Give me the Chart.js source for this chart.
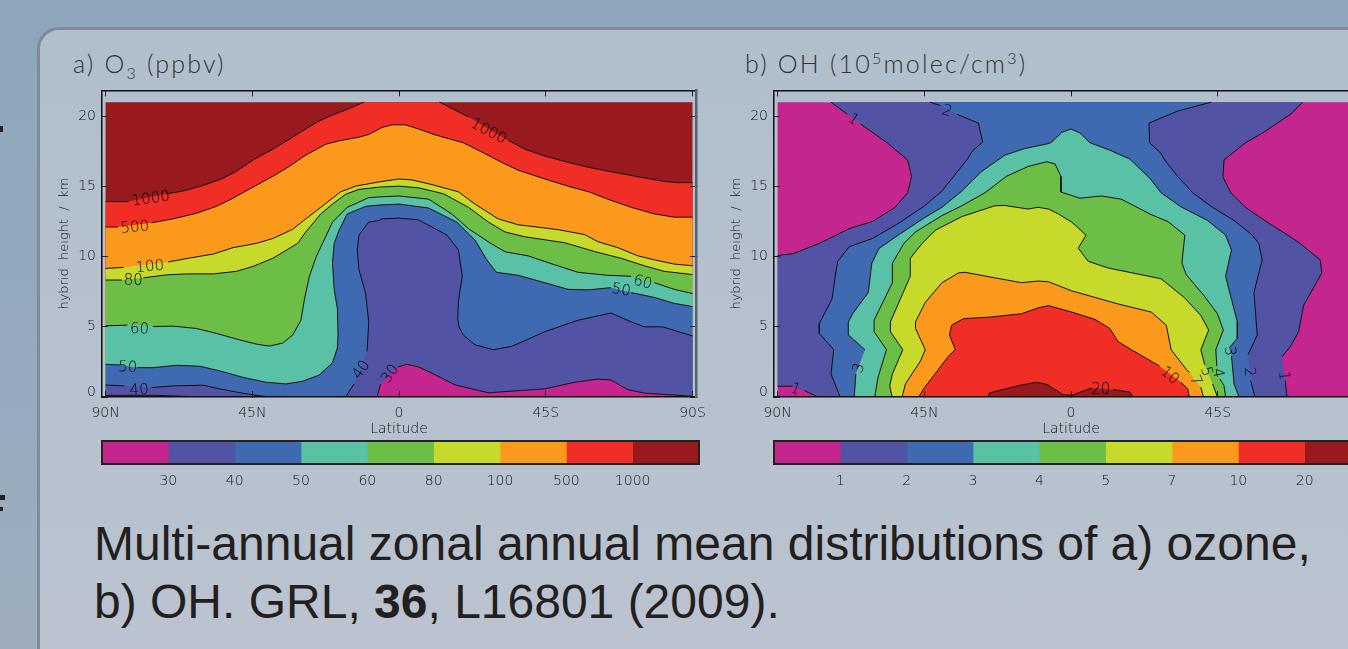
<!DOCTYPE html>
<html lang="en">
<head>
<meta charset="UTF-8">
<title>O3 and OH zonal mean</title>
<script src="https://cdn.jsdelivr.net/npm/chart.js"></script>
<style>
    html, body { margin: 0; height: 100%; overflow: hidden; }
    body { position: relative; width: 1348px; height: 649px; background: linear-gradient(#8ea5bb, #9dadbe); }
    #card { position: absolute; left: 37px; top: 27px; width: 1400px; height: 700px; box-sizing: border-box;
            border: 3px solid #7c8c9c; border-radius: 22px; background: linear-gradient(#b0bfcc, #bac3cf 85%); }
    canvas { position: absolute; }
    .title { position: absolute; top: 48px; font: 300 25px Lato, sans-serif; letter-spacing: 2.2px; color: #333; white-space: pre; }
    .title sub, .title sup { font-size: 16px; line-height: 0; }
    #caption { position: absolute; left: 94px; top: 515px; font: 48px/58px "Liberation Sans", sans-serif; color: #231f20; white-space: nowrap; }
    .cut { position: absolute; left: 0; background: #222; }
</style>
</head>
<body>
<div class="cut" style="top:126px;width:3px;height:6px"></div>
<div class="cut" style="top:495px;width:5px;height:5px"></div>
<div class="cut" style="top:507px;width:3px;height:4px"></div>
<div id="card"></div>
<div class="title" style="left:73px">a) O<sub>3</sub> (ppbv)</div>
<div class="title" style="left:745px">b) OH (10<sup>5</sup>molec/cm<sup>3</sup>)</div>
<canvas id="o3" width="680" height="370" style="left:40px;top:70px"></canvas>
<canvas id="oh" width="680" height="370" style="left:712px;top:70px"></canvas>
<canvas id="o3bar" width="680" height="60" style="left:40px;top:434px"></canvas>
<canvas id="ohbar" width="680" height="60" style="left:712px;top:434px"></canvas>
<div id="caption">Multi-annual zonal annual mean distributions of a) ozone,<br>b) OH. GRL, <b>36</b>, L16801 (2009).</div>
<script>
const levelColors = ['#c4258e', '#5253a5', '#3f69b1', '#59c1a5', '#6cbe46', '#c7da2b', '#fb991d', '#f12e25', '#981a1e'];
const latTicks = [90, 45, 0, -45, -90];
const latLabels = ['90N', '45N', '0', '45S', '90S'];
const kmTicks = [0, 5, 10, 15, 20];
const o3Levels = ['30', '40', '50', '60', '80', '100', '500', '1000'];
const ohLevels = ['1', '2', '3', '4', '5', '7', '10', '20'];

// contours as [latitude, km], null = gap left for a contour label
const o3_1000a = [[90,13.92],[83,13.92],null,[71.3,14.48],[66.2,14.67],[60.1,15.07],[54.5,15.53],[49.9,16.07],[44.8,16.88],[39.8,17.51],[34.2,18.28],[30.6,18.81],[25,19.6],[20.4,20.09],[15.9,20.49],[10.8,21]];
const o3_1000b = [[-12.4,21],[-21.3,19.95],null,[-33.5,18.28],[-38.6,17.65],[-44.7,17.16],[-51.8,16.72],[-57.9,16.37],[-66.1,16],[-74.2,15.65],[-80.8,15.37],[-85.4,15.27],[-90,15.27]];
const o3_500 = [[90,12.11],[86.3,12.11],null,[75.9,12.41],[69.3,12.69],[62.1,13.09],[56,13.58],[51.5,14.09],[44.8,14.95],[38.7,15.72],[33.7,16.42],[28.6,17.23],[22.5,18],[18.4,18.25],[12.3,18.51],[9.3,18.7],[5.2,19.2],[2.1,19.39],[-1.9,19.39],[-6,19.09],[-11.1,18.67],[-19.7,18.11],[-25.3,17.46],[-32,16.65],[-36.5,16.16],[-44.7,15.53],[-51.8,15.02],[-58.4,14.6],[-64,14.09],[-71.2,13.51],[-78.3,13.04],[-84.4,12.81],[-90,12.81]];
const o3_100 = [[90,9.16],[84.5,9.23],null,[70.8,9.62],[64.2,9.9],[57,10.18],[50.9,10.64],[43.8,10.94],[38.7,11.29],[32.6,11.95],[28.6,12.69],[24,13.51],[17.9,14.62],[13.3,15.02],[6.2,15.32],[0,15.53],[-4,15.46],[-10.1,15.13],[-18.2,14.62],[-23.3,13.74],[-30.4,12.69],[-36.5,12.27],[-48.8,11.92],[-56.9,11.57],[-61,11.06],[-67.1,10.64],[-73.2,10.06],[-78.3,9.77],[-84.4,9.47],[-90,9.35]];
const o3_80 = [[90,8.33],[85,8.33],null,[78.4,8.49],[71.3,8.7],[65.2,8.77],[57,8.77],[49.9,8.95],[44.8,9.3],[38.7,9.88],[33.7,10.58],[31.1,10.94],[28.6,11.76],[24,13.04],[20.4,13.74],[16.4,14.44],[12.3,14.79],[6.2,14.95],[0,15.02],[-6,14.9],[-13.6,14.48],[-21.3,13.51],[-27.4,12.46],[-32.5,11.76],[-38.6,11.41],[-50.8,10.99],[-60,10.36],[-68.1,9.88],[-75.2,9.35],[-81.3,8.95],[-90,8.72]];
const o3_60 = [[90,5.07],[83.3,5.12],null,[75.4,5.02],[69.3,5.05],[62.1,4.88],[56,4.53],[48.9,4.07],[43.8,3.77],[39.8,3.63],[35.7,3.84],[32.6,4.42],[30.1,5.47],[29,6.98],[27.5,8.6],[25.4,10],[23.5,10.93],[20.4,12.46],[15.9,13.51],[9.3,14.2],[6.2,14.25],[0,14.32],[-9.1,14.09],[-16.2,13.04],[-21.3,11.99],[-28.2,10.93],[-32.5,10.35],[-39.6,10.05],[-47.7,9.42],[-54.9,8.88],[-64,8.67],[-71.2,8.6],null,[-78.3,8.14],[-84.4,7.67],[-90,7.37]];
const o3_50 = [[90,2.33],[85.5,2.28],null,[80.4,2.09],[75.4,2.09],[68.2,2.26],[61.1,2.19],[55,1.86],[47.9,1.4],[40.8,1.05],[34.7,0.93],[29.6,1.12],[24.5,1.56],[20.4,2.44],[18.9,3.49],[18.7,4.42],[18.9,6.28],[19.9,7.67],[20.4,9.53],[19.9,10.93],[18.4,11.88],[15.9,13.04],[10.2,13.58],[6.2,13.67],[0,13.74],[-9.1,13.46],[-17.7,12.46],[-23.3,11.18],[-26.9,9.77],[-29.9,8.88],[-36.5,8.67],[-44.7,8.14],[-51.8,7.67],[-57.9,7.63],[-65,7.79],null,[-71.2,7.44],[-78.3,7.09],[-84.4,6.67],[-90,6.44]];
const o3_40a = [[90,0.86],[84.3,0.79],null,[75.9,0.67],[69.3,0.79],[60.1,0.84],[55,0.58],[49.9,0.35],[44.8,0.16],[39.8,0]];
const o3_40b = [[16.4,0],[13.8,0.93],null,[9.8,3.26],[9.3,5.35],[10.3,7.44],[12.3,9.07],[12.8,10.47],[12.3,11.53],[9.3,12.46],[6.2,12.57],[5.2,12.69],[0,12.74],[-6,12.62],[-14.7,11.53],[-18.2,10.48],[-19.4,8.6],[-18.7,7.6],[-18.2,6.74],[-18,5.58],[-18.4,5],[-19.7,4.42],[-23.3,3.72],[-28.9,3.37],[-34.5,3.6],[-44.7,4.65],[-54.9,5.47],[-65,5.98],[-71.2,5.35],[-75.2,5],[-80.8,5],[-90,4.35]];
const o3_30a = [[90,0.12],[75,0.12],[60,0]];
const o3_30b = [[6.7,0],[5.7,0.93],null,[0.3,2.14],[-2.4,2.33],[-6,2.14],[-10.1,1.7],[-17.2,0.86],[-27.4,0.3],[-44.7,0.58],[-53.9,1.05],[-61,1.28],[-65,1.21],[-70.1,0.53],[-75.2,0.28],[-90,0.05]];

const oh_1a = [[73.6,21],[68.6,20.14],null,[64.5,19.44],[56.4,18.11],[50.1,16.88],[48.9,15.72],[50.1,14.55],[54,13.51],[60.9,12.5],[67.5,12.04],[71.1,11.64],[77.2,10.94],[85.3,10.2],[90,10.08]];
const oh_1b = [[90,0.77],[85.3,0.77],null,[81.8,0.47],[77.7,0]];
const oh_1c = [[-66.2,0],[-65.7,1.16],null,[-64.7,2.86],[-67.3,3.6],[-69.8,4.65],[-71.3,6.51],[-76.9,8.84],[-76.4,9.77],[-70.3,10.93],[-67.3,11.41],[-60.1,12.46],[-53.5,13.51],[-49,14.55],[-46.6,15.67],[-46.9,16.88],[-53.5,18.11],[-59.1,18.86],[-67.3,20.14],[-71,21]];
const oh_2a = [[43.2,21],[40.1,20.77],null,[35,20.14],[28.4,19.51],[27.1,18.16],[30,17.58],[32,16.88],[39.6,14.67],[44.9,13.62],[52.3,12.46],[60.9,11.29],[68,10.71],[71.6,9.65],[72.3,8.6],[73.3,6.98],[77.2,5.23],[77.2,4.53],[72.8,3.37],[73.6,1.63],[70.8,0]];
const oh_2b = [[-56.4,0],[-55.1,1.16],null,[-54.3,3.02],[-57.1,4.42],[-56.1,7.44],[-58.6,9.77],[-57.6,10.93],[-55.6,11.53],[-50,12.57],[-43.4,13.51],[-37.3,14.55],[-32.7,15.72],[-28.7,16.88],[-27.6,17.35],[-24.1,18.11],[-23.9,19.51],[-32.7,20.37],[-42.9,21]];
const oh_3 = [[66.5,0],[66,1.63],null,[63.2,3.37],[68.3,4.42],[68.3,5.35],[67,5.93],[62.2,7.44],[61.1,9.53],[58.9,10.58],[52.3,11.64],[44.7,12.81],[39.6,13.51],[33.5,14.67],[27.4,16.07],[20.3,17.23],[14.2,17.7],[7.1,18.04],[5.9,18.16],[2.8,18.86],[0,19.09],[-2.7,18.81],[-5.8,18.11],[-11.9,17.58],[-18,16.95],[-24.1,15.6],[-27.6,14.55],[-33.7,13.55],[-41.9,12.57],[-47.4,11.53],[-49.2,10.48],[-47.4,8.6],[-51,5.35],[-51,4.19],[-48.5,3.49],null,[-49.2,2.91],[-50,0.93],[-51.5,0]];
const oh_4 = [[60.2,0],[59.2,1.4],[56.6,3.37],[60.4,4.65],[60.4,5.47],[54.8,8.14],[54.8,9.53],[51.3,10.93],[47.7,11.76],[39.6,12.92],[33.5,13.62],[26.4,14.55],[19.8,15.72],[13.2,16.42],[7.4,16.76],[4.9,16.6],[3.1,15.72],[3.1,14.6],[-2.7,14.16],[-9.3,14.32],[-15.4,14.09],[-24.6,12.99],[-29.7,12.5],[-34.9,11.53],[-34,9.55],[-35.3,8.72],[-40.8,7.21],[-44.9,5.93],[-46.7,4.77],[-44.4,3.37],[-44.7,2.2],null,[-45.7,1.28],[-46.9,0.81],[-47.4,0]];
const oh_5 = [[54.9,0],[55.6,0.81],[54.8,1.63],[51.6,3.37],[55.4,4.65],[55.4,5.35],[49.3,8.6],[49.3,9.88],[45.7,10.93],[41.6,11.88],[33.5,12.85],[23.4,13.62],[20.3,13.64],[13.2,13.39],[10.1,13.51],[6.9,13.39],[3.9,13.04],[-0.2,12.46],[-4.6,11.53],[-2.2,10.6],[-5.3,9.66],[-11.4,9.19],[-27.6,8.42],[-34.7,7.09],[-39.8,5.81],[-42.2,4.77],[-39.8,3.37],[-41,2.3],null,[-43.4,0.93],[-44.9,0]];
const oh_7 = [[51.8,0],[50.8,0.93],[46.2,2.56],[44.7,3.37],[47.7,4.88],[47.7,5.35],[44.7,6.74],[39.6,8.14],[34.5,8.84],[32.5,8.88],[23.4,8.49],[15.2,8.14],[10.1,8.26],[6.9,8.21],[-0.2,7.56],[-14.4,6.63],[-24.6,6.05],[-29.2,5.12],[-30.7,3.37],[-35.3,1.98],[-36.3,1.74],null,[-39.8,0.7],[-40.6,0]];
const oh_10 = [[46.7,0],[45.2,0.58],[37.6,2.91],[35.5,3.37],[37.3,4.42],[36.6,5.12],[33,5.58],[24.4,5.7],[15.2,5.93],[10.1,6.35],[6.9,6.51],[-0.2,6.05],[-7.3,5.53],[-11.9,4.88],[-14.4,3.95],[-18.5,3.37],[-27.1,2.21],null,[-33.7,1.05],[-35.8,0.58],[-36.3,0]];
const oh_20 = [[25.4,0],[25.1,0.28],[16.2,0.81],[10.7,1.05],[7.1,0.88],[6.1,0.7],[2.3,0.16],[-0.2,0.12],[-6.3,0.65],null,[-12.9,0.53],[-18,0.35],[-19,0]];

// contour labels: text, latitude, km, rotation in degrees
const o3Labels = [['1000',76.1,14.1,-8],['500',81,12.06,-5],['100',76.4,9.26,-5],['80',81.5,8.26,0],['60',79.6,4.81,3],['50',83.2,2.09,3],['40',79.7,0.47,-3],['40',11.5,1.93,-55],['30',2.6,1.63,-55],['1000',-27.4,18.9,28],['60',-74.7,8.14,15],['50',-68.1,7.6,10]];
const ohLabels = [['1',66.8,19.74,35],['2',38.1,20.33,20],['1',84.6,0.53,20],['3',65,2.05,-70],['3',-48.5,3.26,85],['2',-54.6,1.79,85],['1',-65.2,1.51,85],['4',-44.9,1.7,80],['5',-41.4,1.81,75],['7',-38.1,1.16,65],['10',-30.2,1.51,40],['20',-9.1,0.47,0]];

const tickFont = { family: '"DejaVu Sans"', size: 14, weight: 200 };
const inkColor = '#111';

const toPoints = part => part.map(p => p ? { x: p[0], y: p[1] } : { x: null, y: null });

// painted first to last, each one covers the one before
function fillDataset(color, parts) {
    return { data: toPoints(parts.flat().filter(p => p)), backgroundColor: color, fill: 'shape', borderWidth: 0, showLine: true, pointRadius: 0 };
}
function lineDataset(part) {
    return { data: toPoints(part), borderColor: '#111', borderWidth: 1, showLine: true, pointRadius: 0, fill: false, spanGaps: false };
}

const labelPlugin = labels => ({
    id: 'contourLabels',
    afterDatasetsDraw(chart) {
        const { ctx, scales } = chart;
        ctx.save();
        ctx.font = '200 15px "DejaVu Sans"';
        ctx.fillStyle = '#000';
        ctx.textAlign = 'center';
        ctx.textBaseline = 'middle';
        labels.forEach(([text, lat, km, angle]) => {
            ctx.save();
            ctx.translate(scales.x.getPixelForValue(lat), scales.y.getPixelForValue(km));
            ctx.rotate(angle * Math.PI / 180);
            ctx.fillText(text, 0, 0);
            ctx.restore();
        });
        ctx.restore();
    }
});

function drawPanel(id, fills, lines, labels) {
    const datasets = fills.map((f, i) => fillDataset(f[0], f[1])).concat(lines.map(lineDataset)).reverse();
    const frame = (color, width) => ({ display: true, color, width, z: 1 });
    const inward = { drawOnChartArea: false, tickLength: -6, color: '#222', lineWidth: 1, z: 1 };
    new Chart(document.getElementById(id), {
        type: 'scatter',
        data: { datasets },
        plugins: [labelPlugin(labels)],
        options: {
            responsive: false,
            animation: false,
            layout: { padding: { top: 9, right: 21 } },
            plugins: { legend: { display: false }, tooltip: { enabled: false } },
            scales: {
                x: {
                    type: 'linear', reverse: true, min: -91.1, max: 91.1,
                    afterBuildTicks: s => { s.ticks = latTicks.map(value => ({ value })); },
                    afterFit: s => { s.height = 43; },
                    border: frame('#111', 1.5), grid: inward,
                    ticks: { autoSkip: false, maxRotation: 0, padding: 14, color: inkColor, font: tickFont,
                        callback: v => latLabels[latTicks.indexOf(v)] },
                    title: { display: true, text: 'Latitude', color: inkColor, font: tickFont, padding: { top: 0, bottom: 2 } }
                },
                x2: {
                    type: 'linear', position: 'top', reverse: true, min: -91.1, max: 91.1,
                    afterBuildTicks: s => { s.ticks = latTicks.map(value => ({ value })); },
                    afterFit: s => { s.height = 0; },
                    border: frame('#111', 1.5), grid: inward, ticks: { display: false }
                },
                y: {
                    min: 0, max: 21.84,
                    afterBuildTicks: s => { s.ticks = kmTicks.map(value => ({ value })); },
                    afterFit: s => { s.width = 62; },
                    border: frame('#111', 1.5), grid: inward,
                    ticks: { padding: 12, color: inkColor,
                        font: c => ({ ...tickFont, lineHeight: c.tick && c.tick.value === 0 ? 0.6 : 1.2 }),
                        callback: v => v === 0 ? ['0', ''] : String(v) },
                    title: { display: true, text: 'hybrid  height  /  km', color: inkColor, font: { ...tickFont, size: 13 }, padding: { top: 17, bottom: 0 } }
                },
                y2: {
                    position: 'right', min: 0, max: 21.84,
                    afterBuildTicks: s => { s.ticks = kmTicks.map(value => ({ value })); },
                    afterFit: s => { s.width = 0; },
                    border: frame('#56636f', 2.5), grid: inward, ticks: { display: false }
                }
            }
        }
    });
}

function drawColorbar(id, levels) {
    new Chart(document.getElementById(id), {
        type: 'bar',
        data: {
            labels: [''],
            datasets: levelColors.map(c => ({ data: [1], backgroundColor: c, barPercentage: 1, categoryPercentage: 1 }))
        },
        options: {
            responsive: false,
            animation: false,
            indexAxis: 'y',
            layout: { padding: { top: 7, right: 21 } },
            plugins: { legend: { display: false }, tooltip: { enabled: false } },
            scales: {
                x: {
                    stacked: true, min: 0, max: levelColors.length,
                    afterBuildTicks: s => { s.ticks = levels.map((l, i) => ({ value: i + 1 })); },
                    afterFit: s => { s.height = 30; },
                    border: { display: true, color: '#222', width: 2, z: 1 },
                    grid: { display: false },
                    ticks: { autoSkip: false, maxRotation: 0, padding: 1, color: inkColor, font: tickFont,
                        callback: v => levels[v - 1] }
                },
                x2: { position: 'top', min: 0, max: 1, afterFit: s => { s.height = 0; }, border: { display: true, color: '#222', width: 2, z: 1 }, grid: { display: false }, ticks: { display: false } },
                y: { stacked: true, afterFit: s => { s.width = 62; }, border: { display: true, color: '#222', width: 2, z: 1 }, grid: { display: false }, ticks: { display: false } },
                y2: { position: 'right', min: 0, max: 1, afterFit: s => { s.width = 0; }, border: { display: true, color: '#222', width: 2, z: 1 }, grid: { display: false }, ticks: { display: false } }
            }
        }
    });
}

// O3 rises with height: paint from the top colour down
const o3Rect = [[90,0],[90,21],[-90,21],[-90,0]];
const bottomEdge = [[-90,0],[90,0]];
drawPanel('o3', [
    [levelColors[8], [o3Rect]],
    [levelColors[7], [o3_1000a, o3_1000b, bottomEdge]],
    [levelColors[6], [o3_500, bottomEdge]],
    [levelColors[5], [o3_100, bottomEdge]],
    [levelColors[4], [o3_80, bottomEdge]],
    [levelColors[3], [o3_60, bottomEdge]],
    [levelColors[2], [o3_50, bottomEdge]],
    [levelColors[1], [o3_40a, o3_40b, bottomEdge]],
    [levelColors[0], [o3_30a, o3_30b, bottomEdge]]
], [o3_1000a, o3_1000b, o3_500, o3_100, o3_80, o3_60, o3_50, o3_40a, o3_40b, o3_30a, o3_30b], o3Labels);

// OH peaks low in the tropics: paint outward in
drawPanel('oh', [
    [levelColors[0], [o3Rect]],
    [levelColors[1], [oh_1a, oh_1b, oh_1c]],
    [levelColors[2], [oh_2a, oh_2b]],
    [levelColors[3], [oh_3]],
    [levelColors[4], [oh_4]],
    [levelColors[5], [oh_5]],
    [levelColors[6], [oh_7]],
    [levelColors[7], [oh_10]],
    [levelColors[8], [oh_20]]
], [oh_1a, oh_1b, oh_1c, oh_2a, oh_2b, oh_3, oh_4, oh_5, oh_7, oh_10, oh_20], ohLabels);

drawColorbar('o3bar', o3Levels);
drawColorbar('ohbar', ohLevels);
</script>
</body>
</html>
